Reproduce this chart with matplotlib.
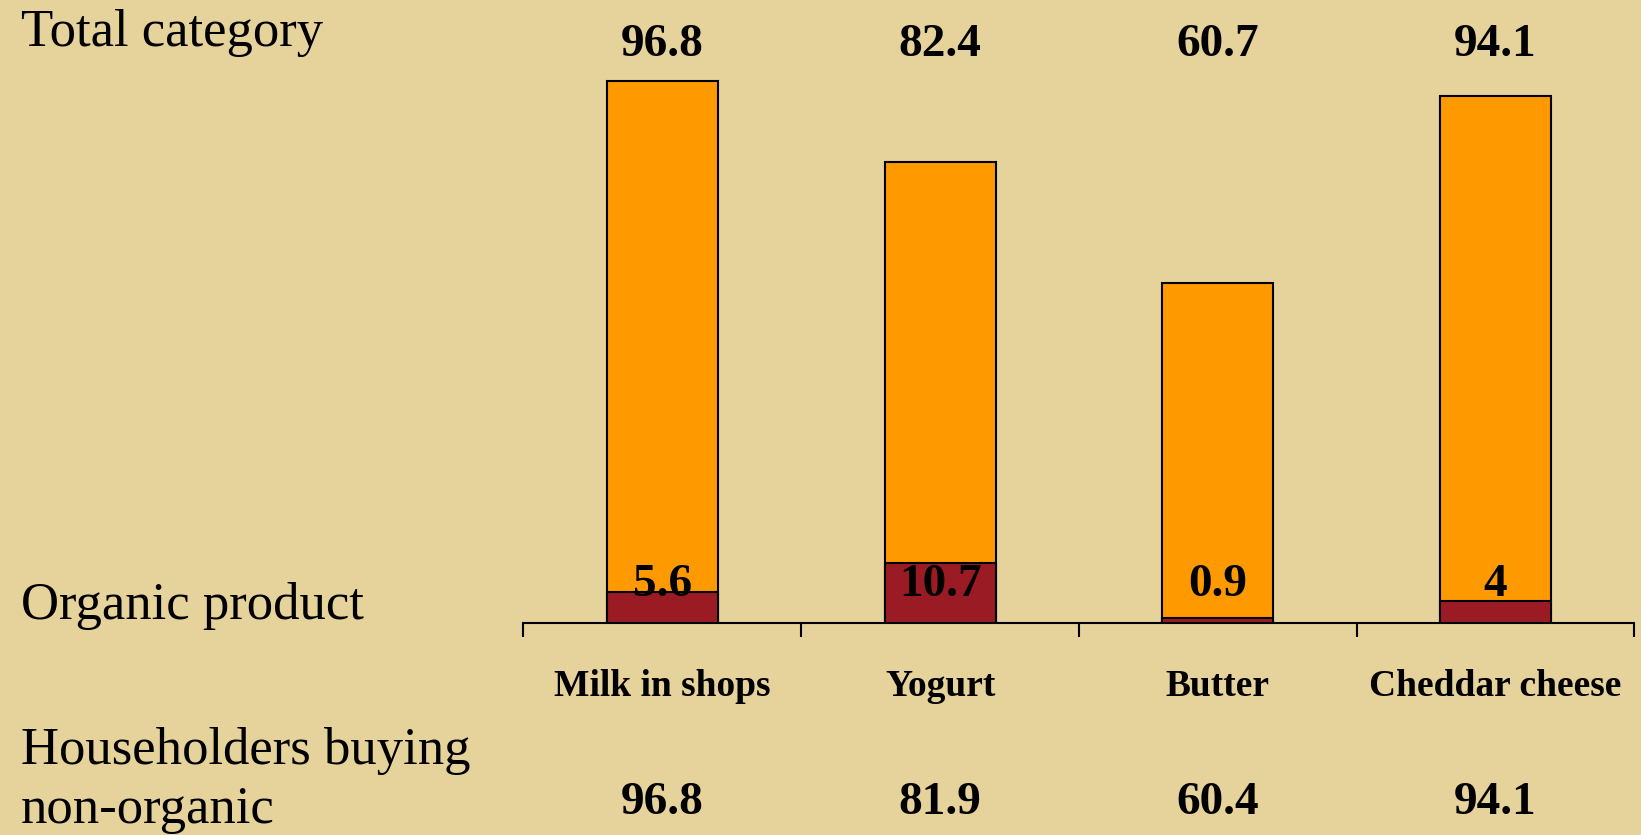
import matplotlib
matplotlib.use("Agg")
import matplotlib.pyplot as plt
from matplotlib.transforms import blended_transform_factory

categories = ["Milk in shops", "Yogurt", "Butter", "Cheddar cheese"]
total_category = [96.8, 82.4, 60.7, 94.1]
organic_product = [5.6, 10.7, 0.9, 4]
non_organic = [96.8, 81.9, 60.4, 94.1]

BG = "#E6D29B"
ORANGE = "#FF9900"
DARK_RED = "#9B1B24"
SERIF = ["Liberation Serif", "DejaVu Serif"]

fig = plt.figure(figsize=(16.41, 8.35), dpi=100, facecolor=BG)
ax = fig.add_axes([0.319, 0.2539, 0.677, 0.6707])
ax.set_facecolor(BG)
ax.patch.set_alpha(0)

x = list(range(len(categories)))
ax.bar(x, total_category, width=0.4, color=ORANGE, edgecolor="black", linewidth=1.5, zorder=2)
ax.bar(x, organic_product, width=0.4, color=DARK_RED, edgecolor="black", linewidth=1.5, zorder=3)

ax.set_xlim(-0.5, len(categories) - 0.5)
ax.set_ylim(0, 100)
for side in ("top", "right", "left"):
    ax.spines[side].set_visible(False)
ax.spines["bottom"].set_linewidth(1.5)
ax.set_yticks([])
ax.set_xticks([i - 0.5 for i in range(len(categories) + 1)])
ax.set_xticklabels([])
ax.tick_params(axis="x", length=10, width=1.5, direction="out")

tr = blended_transform_factory(ax.transData, fig.transFigure)

def fy(px):
    return 1 - px / 835.0

for i, cat in enumerate(categories):
    ax.text(i, fy(45), f"{total_category[i]:g}", transform=tr, ha="center", va="center",
            fontsize=34, fontweight="bold", family=SERIF)
    ax.text(i, fy(585), f"{organic_product[i]:g}", transform=tr, ha="center", va="center",
            fontsize=34, fontweight="bold", family=SERIF, zorder=4)
    ax.text(i, fy(686), cat, transform=tr, ha="center", va="center",
            fontsize=27, fontweight="bold", family=SERIF)
    ax.text(i, fy(803), f"{non_organic[i]:g}", transform=tr, ha="center", va="center",
            fontsize=34, fontweight="bold", family=SERIF)

fig.text(21 / 1641, fy(33), "Total category", ha="left", va="center", fontsize=38, family=SERIF)
fig.text(21 / 1641, fy(606), "Organic product", ha="left", va="center", fontsize=38, family=SERIF)
fig.text(21 / 1641, fy(751), "Householders buying", ha="left", va="center", fontsize=38, family=SERIF)
fig.text(21 / 1641, fy(810), "non-organic", ha="left", va="center", fontsize=38, family=SERIF)

fig.savefig("out.png", dpi=100, facecolor=BG)
